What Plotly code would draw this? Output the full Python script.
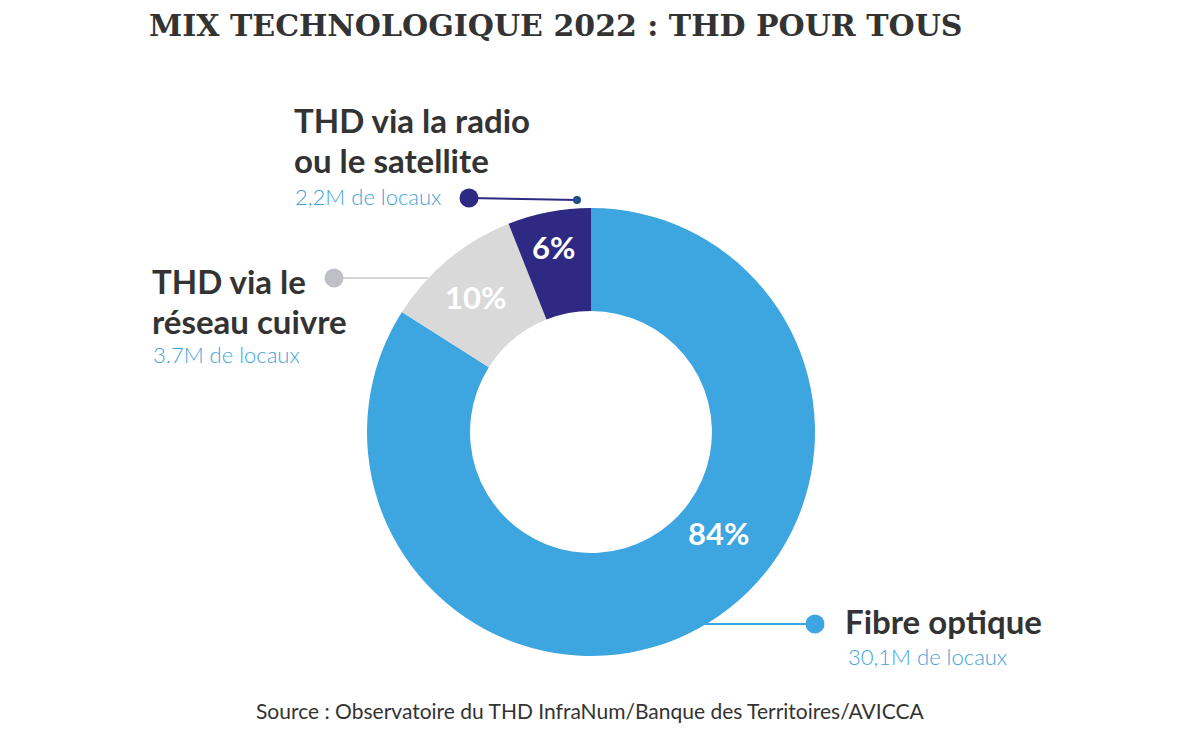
import plotly.graph_objects as go

# ---- data ----
categories = ["Fibre optique", "THD via le réseau cuivre", "THD via la radio ou le satellite"]
percent = [84, 10, 6]
locaux = ["30,1M", "3.7M", "2,2M"]
colors = ["#3DA5DF", "#D9D9D9", "#2E2983"]

title_text = "MIX TECHNOLOGIQUE 2022 : THD POUR TOUS"
source_text = "Source : Observatoire du THD InfraNum/Banque des Territoires/AVICCA"

W, H = 1200, 733
def px(x):
    return x / W
def py(y):
    return 1 - y / H

cx, cy, R = 591, 432, 224

fig = go.Figure()
fig.add_trace(go.Pie(
    labels=categories,
    values=percent,
    marker=dict(colors=colors, line=dict(width=0)),
    hole=0.54,
    sort=False,
    direction="clockwise",
    rotation=0,
    textinfo="none",
    hoverinfo="label+percent",
    showlegend=False,
    domain=dict(x=[px(cx - R), px(cx + R)], y=[py(cy + R), py(cy - R)]),
))

ann = []
def text(x, y, s, size, color, family, weight="normal", xanchor="left"):
    ann.append(dict(x=px(x), y=py(y), xref="paper", yref="paper", text=s,
                    showarrow=False, xanchor=xanchor, yanchor="middle",
                    font=dict(size=size, color=color, family=family, weight=weight)))

head_font = "Lato, Open Sans, sans-serif"
sub_font = "Lato, Open Sans, sans-serif"
sub_color = "#3FA3DC"

# percent labels inside the ring
pct_pos = [(718, 533), (475, 297), (553, 247)]
for (x, y), v in zip(pct_pos, percent):
    text(x, y, f"{v}%", 31, "white", head_font, "bold", "center")

# category labels
text(292, 120, "THD via la radio", 33, "#333333", head_font, "bold")
text(292, 160, "ou le satellite", 33, "#333333", head_font, "bold")
text(293, 196, f"{locaux[2]} de locaux", 22, sub_color, sub_font, 300)

text(150, 281, "THD via le", 33, "#333333", head_font, "bold")
text(150, 321, "réseau cuivre", 33, "#333333", head_font, "bold")
text(151, 354, f"{locaux[1]} de locaux", 22, sub_color, sub_font, 300)

text(843, 621, categories[0], 33, "#333333", head_font, "bold")
text(846, 656, f"{locaux[0]} de locaux", 22, sub_color, sub_font, 300)

# title and source
ann.append(dict(x=px(556), y=py(25), xref="paper", yref="paper", text=title_text,
                showarrow=False, xanchor="center", yanchor="middle",
                font=dict(size=30, color="#333333", family="DejaVu Serif", weight="bold")))
ann.append(dict(x=px(590), y=py(710), xref="paper", yref="paper", text=source_text,
                showarrow=False, xanchor="center", yanchor="middle",
                font=dict(size=21, color="#333333", family="Lato, sans-serif")))

shapes = []
def line(x0, y0, x1, y1, color, w):
    shapes.append(dict(type="line", xref="paper", yref="paper",
                       x0=px(x0), y0=py(y0), x1=px(x1), y1=py(y1),
                       line=dict(color=color, width=w)))
def dot(x, y, r, color):
    shapes.append(dict(type="circle", xref="paper", yref="paper",
                       x0=px(x - r), x1=px(x + r), y0=py(y + r), y1=py(y - r),
                       fillcolor=color, line=dict(width=0)))

line(469, 198, 577, 200, "#2E2983", 2)
dot(469, 198, 9.5, "#2E2983")
dot(577, 200, 4, "#1F4E8C")

line(334, 278, 428, 278, "#C8C9CE", 1.5)
dot(334, 278, 9.5, "#BFC0C7")

line(700, 624, 815, 624, "#3DA5DF", 2)
dot(815, 624, 9.5, "#3DA5DF")

fig.update_layout(
    width=W, height=H,
    margin=dict(l=0, r=0, t=0, b=0),
    paper_bgcolor="white", plot_bgcolor="white",
    annotations=ann, shapes=shapes,
)

fig.write_html("out.html", config={"displayModeBar": False},
               post_script="document.body.style.margin='0';")
